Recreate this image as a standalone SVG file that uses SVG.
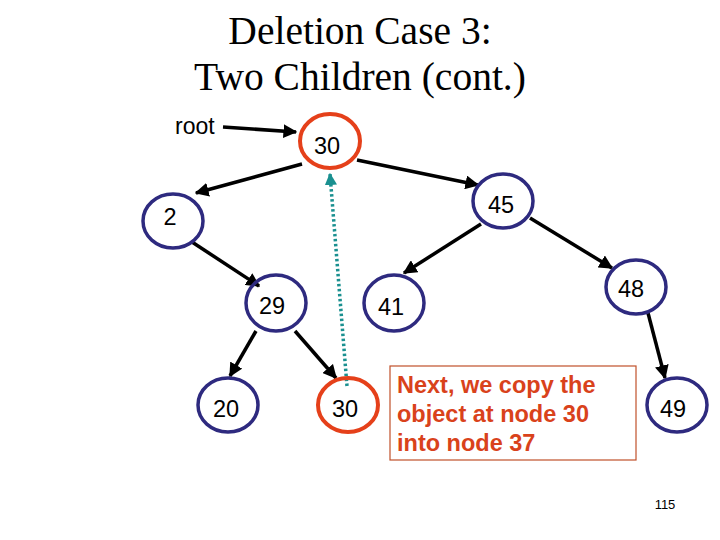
<svg xmlns="http://www.w3.org/2000/svg" width="720" height="540" viewBox="0 0 720 540">
<style>
.title{font-family:"Liberation Serif",serif;font-size:39.5px;fill:#000;text-anchor:middle}
.lbl{font-family:"Liberation Sans",Arial,sans-serif;font-size:23.5px;fill:#000;text-anchor:middle}
.blue{fill:none;stroke:#2E2A7F;stroke-width:3.5}
.red{fill:none;stroke:#E5401A;stroke-width:4}
.edge{stroke:#000;stroke-width:3.5;fill:none;marker-end:url(#ah)}
.note{font-family:"Liberation Sans",Arial,sans-serif;font-size:23.5px;font-weight:bold;fill:#D9421B}
</style>
<defs>
<marker id="ah" viewBox="0 0 10 10" refX="9" refY="5" markerWidth="4" markerHeight="4" orient="auto" markerUnits="strokeWidth">
<path d="M0,0 L10,5 L0,10 z" fill="#000"/>
</marker>
<marker id="ah2" viewBox="0 0 10 10" refX="9" refY="5" markerWidth="3.5" markerHeight="3.5" orient="auto" markerUnits="strokeWidth">
<path d="M0,0 L10,5 L0,10 z" fill="#1A9090"/>
</marker>
</defs>
<rect width="720" height="540" fill="#fff"/>
<text class="title" x="360" y="44">Deletion Case 3:</text>
<text class="title" x="360" y="90">Two Children (cont.)</text>
<text x="175" y="134" font-family="Liberation Sans,Arial,sans-serif" font-size="23">root</text>

<g id="connectors">
<path class="edge" d="M223,127 L296,132"/>
<path class="edge" d="M302,164 L196,193"/>
<path class="edge" d="M357,160 L478,185"/>
<path class="edge" d="M192,242 L259,286"/>
<path class="edge" d="M481,224 L404,273"/>
<path class="edge" d="M530,218 L612,268"/>
<path class="edge" d="M256,331 L230,376"/>
<path class="edge" d="M295,331 L336,378"/>
<path class="edge" d="M648,313 L665,378"/>
<path d="M347,386 L330,174" stroke="#1A9090" stroke-width="3.5" stroke-dasharray="2.5,2.5" fill="none" marker-end="url(#ah2)"/>
</g>

<g id="n30top"><ellipse class="red" cx="330" cy="141" rx="30" ry="27"/><text class="lbl" x="327" y="154">30</text></g>
<g id="n2"><ellipse class="blue" cx="173" cy="221" rx="30" ry="27"/><text class="lbl" x="170" y="225">2</text></g>
<g id="n45"><ellipse class="blue" cx="503" cy="201" rx="30" ry="27"/><text class="lbl" x="501" y="213">45</text></g>
<g id="n29"><ellipse class="blue" cx="276" cy="303" rx="30" ry="28"/><text class="lbl" x="272" y="314">29</text></g>
<g id="n41"><ellipse class="blue" cx="394" cy="303" rx="30" ry="28"/><text class="lbl" x="391" y="315">41</text></g>
<g id="n48"><ellipse class="blue" cx="636" cy="287" rx="30" ry="27"/><text class="lbl" x="631" y="297">48</text></g>
<g id="n20"><ellipse class="blue" cx="228" cy="405" rx="30" ry="27"/><text class="lbl" x="226" y="417">20</text></g>
<g id="n30"><ellipse class="red" cx="348" cy="405" rx="30" ry="27"/><text class="lbl" x="345" y="417">30</text></g>
<g id="n49"><ellipse class="blue" cx="677" cy="405" rx="30" ry="27"/><text class="lbl" x="673" y="417">49</text></g>

<g id="note">
<rect x="390" y="366" width="246" height="94" fill="#fff" stroke="#C0502A" stroke-width="1.2"/>
<text class="note" x="397" y="393">Next, we copy the</text>
<text class="note" x="397" y="422">object at node 30</text>
<text class="note" x="397" y="451">into node 37</text>
</g>
<text x="665" y="509" font-family="Liberation Sans,Arial,sans-serif" font-size="13" text-anchor="middle">115</text>
</svg>
